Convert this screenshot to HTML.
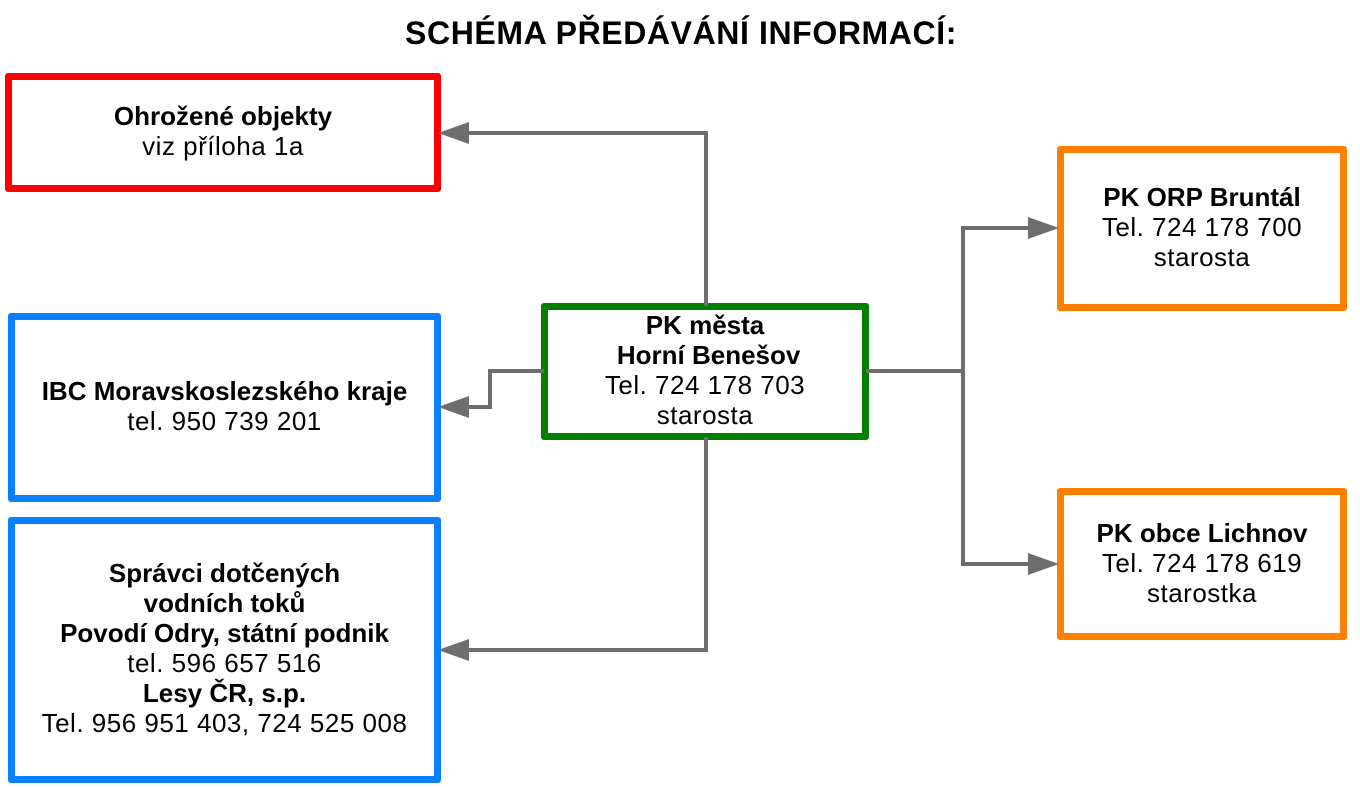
<!DOCTYPE html>
<html>
<head>
<meta charset="utf-8">
<style>
  html, body { margin:0; padding:0; background:#fff; }
  body { width:1360px; height:787px; position:relative; overflow:hidden;
         font-family:"Liberation Sans", "DejaVu Sans", sans-serif; color:#000; }
  .title { position:absolute; left:0; width:1362px; top:13px; text-align:center;
           font-size:32px; font-weight:bold; letter-spacing:0.6px; line-height:40px; }
  .box { position:absolute; box-sizing:border-box; border:7px solid; border-radius:3px;
         background:#fff; display:flex; flex-direction:column; justify-content:center;
         align-items:center; text-align:center; font-size:26px; line-height:30px; }
  .box div { white-space:nowrap; letter-spacing:0.5px; }
  .box div.b { font-weight:bold; letter-spacing:0; }
  .red { border-color:#ff0000; }
  .blue { border-color:#0a80ff; }
  .green { border-color:#008000; }
  .orange { border-color:#ff8000; }
  svg { position:absolute; left:0; top:0; }
</style>
</head>
<body>
<div class="title">SCHÉMA PŘEDÁVÁNÍ INFORMACÍ:</div>

<div class="box red" style="left:5px;top:73px;width:436px;height:119px;padding-bottom:4px;">
  <div class="b">Ohrožené objekty</div>
  <div>viz příloha 1a</div>
</div>

<div class="box blue" style="left:8px;top:313px;width:433px;height:189px;padding-bottom:3px;">
  <div class="b">IBC Moravskoslezského kraje</div>
  <div>tel. 950 739 201</div>
</div>

<div class="box blue" style="left:8px;top:517px;width:433px;height:266px;padding-bottom:5px;">
  <div class="b">Správci dotčených</div>
  <div class="b">vodních toků</div>
  <div class="b">Povodí Odry, státní podnik</div>
  <div>tel. 596 657 516</div>
  <div class="b">Lesy ČR, s.p.</div>
  <div>Tel. 956 951 403, 724 525 008</div>
</div>

<div class="box green" style="left:541px;top:303px;width:328px;height:137px;padding-bottom:4px;">
  <div class="b">PK města</div>
  <div class="b">&nbsp;Horní Benešov</div>
  <div>Tel. 724 178 703</div>
  <div>starosta</div>
</div>

<div class="box orange" style="left:1057px;top:146px;width:290px;height:165px;padding-bottom:4px;">
  <div class="b">PK ORP Bruntál</div>
  <div>Tel. 724 178 700</div>
  <div>starosta</div>
</div>

<div class="box orange" style="left:1057px;top:488px;width:290px;height:152px;padding-bottom:3px;">
  <div class="b">PK obce Lichnov</div>
  <div>Tel. 724 178 619</div>
  <div>starostka</div>
</div>

<svg width="1360" height="787" viewBox="0 0 1360 787">
  <g fill="none" stroke="#6e6e6e" stroke-width="4" stroke-linejoin="miter">
    <path d="M706,306 V133 H468"/>
    <path d="M544,371 H490 V407 H468"/>
    <path d="M706,437 V650 H468"/>
    <path d="M866,371 H963"/>
    <path d="M1028,228 H963 V564 H1028"/>
  </g>
  <g fill="#6e6e6e">
    <polygon points="438,133 469,122 469,144"/>
    <polygon points="438,407 469,396 469,418"/>
    <polygon points="438,650 469,639 469,661"/>
    <polygon points="1059,228 1028,217 1028,239"/>
    <polygon points="1059,564 1028,553 1028,575"/>
  </g>
</svg>
</body>
</html>
